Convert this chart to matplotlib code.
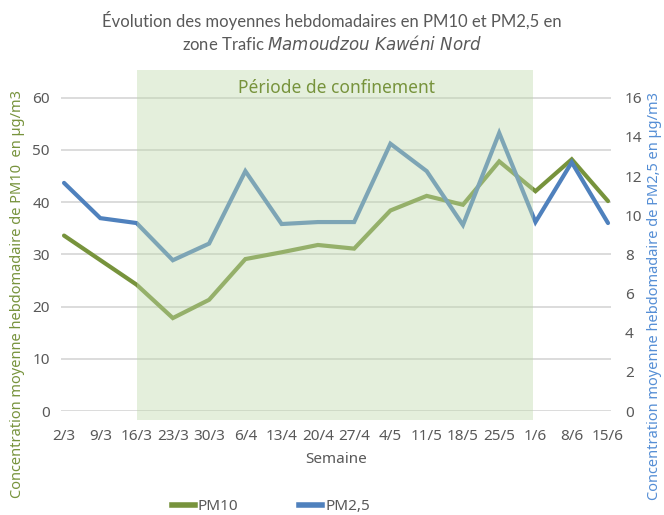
import matplotlib
matplotlib.use("Agg")
import matplotlib.pyplot as plt
from matplotlib.patches import Rectangle

# Weekly means, Mamoudzou Kawéni Nord (traffic station)
semaines = ["2/3", "9/3", "16/3", "23/3", "30/3", "6/4", "13/4", "20/4",
            "27/4", "4/5", "11/5", "18/5", "25/5", "1/6", "8/6", "15/6"]
pm10 = [33.6, 28.9, 24.2, 17.8, 21.3, 29.1, 30.4, 31.8,
        31.1, 38.4, 41.2, 39.5, 47.8, 42.1, 48.2, 40.2]
pm25 = [11.65, 9.85, 9.6, 7.7, 8.55, 12.25, 9.55, 9.65,
        9.65, 13.65, 12.25, 9.5, 14.2, 9.65, 12.7, 9.6]
debut_confinement = "16/3"
fin_confinement = "1/6"

GREEN = "#77933C"
BLUE = "#4F81BD"
GREY = "#595959"
GRID = "#D9D9D9"

plt.rcParams["font.family"] = ["Noto Sans", "DejaVu Sans"]

fig = plt.figure(figsize=(6.64, 5.15), dpi=100)
ax = fig.add_axes([0.0919, 0.2019, 0.8283, 0.6621])
ax2 = ax.twinx()

x = list(range(len(semaines)))
top10 = 65.3
ax.plot(x, pm10, color=GREEN, lw=3, solid_capstyle="round", solid_joinstyle="miter", zorder=3)
ax2.plot(x, pm25, color=BLUE, lw=3, solid_capstyle="round", solid_joinstyle="miter", zorder=3)

ax.set_xlim(-0.083, len(semaines) - 1 + 0.083)
ax.set_ylim(0, top10)
ax2.set_ylim(0, top10 * 16 / 60)
ax.set_yticks(range(0, 61, 10))
ax2.set_yticks(range(0, 17, 2))
ax.set_xticks(x)
ax.set_xticklabels(semaines)

ax.grid(axis="y", color=GRID, lw=1.3)
ax.set_axisbelow(True)
for a in (ax, ax2):
    for s in a.spines.values():
        s.set_visible(False)
    a.tick_params(length=0, colors=GREY, labelsize=11)
ax.tick_params(axis="x", pad=13)
ax.tick_params(axis="y", pad=8)
ax2.tick_params(axis="y", pad=10)

# lockdown shading, drawn over the lines
x0 = semaines.index(debut_confinement)
x1 = semaines.index(fin_confinement)
ax2.add_patch(Rectangle((x0, -0.45), x1 - x0 - 0.07, top10 * 16 / 60 + 0.45,
                        facecolor="#BFD9AC", alpha=0.42, lw=0, zorder=5, clip_on=False))
ax2.text((x0 + x1) / 2, 16.5, "Période de confinement", color=GREEN,
         fontsize=12.5, ha="center", va="center", zorder=6)

ax.set_xlabel("Semaine", color=GREY, fontsize=11, labelpad=6)
fig.text(0.026, 0.43, "Concentration moyenne hebdomadaire de PM10  en µg/m3",
         rotation=90, color=GREEN, fontsize=10.5, ha="center", va="center")
fig.text(0.985, 0.425, "Concentration moyenne hebdomadaire de PM2,5 en µg/m3",
         rotation=90, color="#558ED5", fontsize=10.5, ha="center", va="center")

fig.text(0.5, 0.938, "Évolution des moyennes hebdomadaires en PM10 et PM2,5 en\n"
         "zone Trafic $\\it{Mamoudzou\\ Kawéni\\ Nord}$",
         ha="center", va="center", color=GREY, fontsize=12, linespacing=1.3,
         family=["Lato", "DejaVu Sans"])

h1, = ax.plot([], [], color=GREEN, lw=4)
h2, = ax.plot([], [], color=BLUE, lw=4)
fig.legend([h1, h2], ["PM10", "PM2,5"], loc="center", bbox_to_anchor=(0.408, 0.016),
           ncol=2, frameon=False, fontsize=11, handlelength=1.5, handletextpad=0.2,
           columnspacing=4.0, labelcolor=GREY)

fig.savefig("out.png", dpi=100)
